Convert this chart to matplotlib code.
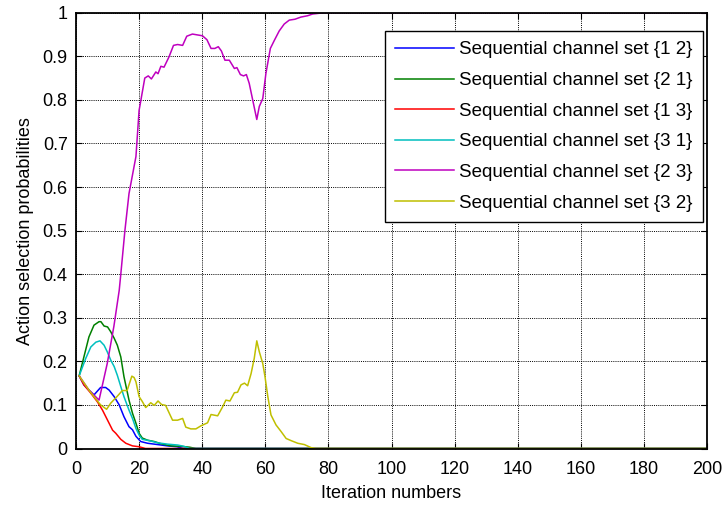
import matplotlib
import matplotlib.pyplot as plt

matplotlib.use("Agg")

# values (iteration, probability)
x_12 = [1, 2.5, 4.1, 5.7, 7.8, 9.4, 10.5, 12.1, 13.7, 15.2, 16.8, 17.9, 19, 20.5, 22.7, 25.9, 29, 32, 34, 200]
y_12 = [0.1667, 0.146, 0.134, 0.123, 0.140, 0.140, 0.134, 0.119, 0.100, 0.073, 0.050, 0.043, 0.028, 0.016, 0.012, 0.009, 0.006, 0.004, 0.0, 0.0]

x_21 = [1, 2.5, 4.1, 5.7, 7.3, 7.9, 8.9, 10, 11, 12.1, 13.1, 14.2, 15.2, 16.8, 17.9, 19, 20, 21, 22.7, 24.8, 26.9, 30, 33.2, 36, 38, 200]
y_21 = [0.1667, 0.210, 0.256, 0.283, 0.291, 0.291, 0.281, 0.279, 0.268, 0.253, 0.237, 0.210, 0.165, 0.111, 0.081, 0.058, 0.035, 0.024, 0.019, 0.016, 0.011, 0.006, 0.005, 0.003, 0.0, 0.0]

x_13 = [1, 2.5, 4.7, 6.8, 8.4, 10, 11.6, 12.6, 14.2, 15.8, 17.9, 20, 22, 200]
y_13 = [0.1667, 0.146, 0.127, 0.107, 0.088, 0.065, 0.042, 0.035, 0.021, 0.012, 0.006, 0.004, 0.0, 0.0]

x_31 = [1, 3.1, 4.7, 6.3, 7.6, 8.9, 9.9, 11, 12.1, 13.1, 14.2, 15.2, 16.8, 17.9, 19, 20, 21, 23.2, 25.9, 29, 32.2, 34.2, 36, 200]
y_31 = [0.1667, 0.207, 0.233, 0.244, 0.247, 0.237, 0.222, 0.203, 0.188, 0.168, 0.142, 0.119, 0.088, 0.069, 0.046, 0.031, 0.021, 0.018, 0.013, 0.010, 0.008, 0.005, 0.0, 0.0]

x_23 = [1, 4, 7.3, 9.9, 12, 13.7, 14.2, 15.5, 16.8, 19, 20, 21.8, 22.9, 23.9, 25.3, 26, 26.9, 27.9, 29.5,
        30.9, 32.2, 33.8, 35.1, 36.9, 38.5, 40.1, 41.5, 42.8, 44, 45.1, 46.1, 47.2, 48.6, 50.2, 51, 52.1,
        53.1, 54, 54.9, 56, 57.3, 58.1, 59.2, 60.2, 61.6, 62.9, 64.4, 66, 67.6, 69.4, 71.3, 73.4, 75, 78.7, 200]
y_23 = [0.1667, 0.135, 0.111, 0.195, 0.28, 0.363, 0.40, 0.50, 0.585, 0.67, 0.776, 0.85, 0.855, 0.848, 0.864, 0.86, 0.877, 0.875, 0.899,
        0.925, 0.927, 0.925, 0.946, 0.951, 0.949, 0.947, 0.938, 0.918, 0.918, 0.922, 0.912, 0.891, 0.891, 0.872, 0.874, 0.858,
        0.855, 0.858, 0.838, 0.800, 0.755, 0.785, 0.803, 0.861, 0.918, 0.937, 0.958, 0.974, 0.983, 0.985, 0.990, 0.993, 0.997, 1.0, 1.0]

x_32 = [1, 4, 5.7, 7.8, 9.7, 11, 13.1, 14.7, 16.2, 17.7, 18.4, 19, 20, 21, 22.1, 23.7, 24.8, 26, 27.1, 28.4, 30.6,
        32.2, 33.8, 34.8, 36.4, 38, 39.6, 41.7, 42.8, 44.9, 46.5, 47.5, 48.8, 50.2, 51.2, 52.3, 53.4, 54.4, 55.5,
        56.5, 57.3, 58.1, 59.2, 59.9, 60.8, 61.8, 63.4, 65, 66.6, 68.2, 70.3, 72.4, 74.5, 76, 200]
y_32 = [0.1667, 0.135, 0.119, 0.100, 0.090, 0.104, 0.120, 0.133, 0.133, 0.166, 0.163, 0.153, 0.119, 0.108, 0.094, 0.105, 0.099, 0.109, 0.101, 0.099, 0.065,
        0.065, 0.069, 0.049, 0.045, 0.045, 0.052, 0.059, 0.078, 0.075, 0.096, 0.111, 0.109, 0.128, 0.129, 0.146, 0.150, 0.144, 0.172,
        0.207, 0.247, 0.222, 0.195, 0.165, 0.119, 0.077, 0.054, 0.039, 0.023, 0.018, 0.012, 0.009, 0.002, 0.0, 0.0]

labels = ["Sequential channel set {1 2}", "Sequential channel set {2 1}",
          "Sequential channel set {1 3}", "Sequential channel set {3 1}",
          "Sequential channel set {2 3}", "Sequential channel set {3 2}"]
colors = ["#0000ff", "#008000", "#ff0000", "#00bfbf", "#bf00bf", "#bfbf00"]

x_ticks = list(range(0, 201, 20))
y_ticks = [0, 0.1, 0.2, 0.3, 0.4, 0.5, 0.6, 0.7, 0.8, 0.9, 1]
y_tick_labels = ["0", "0.1", "0.2", "0.3", "0.4", "0.5", "0.6", "0.7", "0.8", "0.9", "1"]


def main():
    plt.rcParams["font.family"] = ["Liberation Sans", "DejaVu Sans"]
    fig = plt.figure(figsize=(7.25, 5.05), dpi=100)
    ax = fig.add_axes([76 / 725, 56.5 / 505, 631 / 725, 435.8 / 505])

    series = [(x_12, y_12), (x_21, y_21), (x_13, y_13), (x_31, y_31), (x_23, y_23), (x_32, y_32)]
    for (xs, ys), lab, col in zip(series, labels, colors):
        ax.plot(xs, ys, color=col, lw=1.1, label=lab)

    ax.set_xlim(0, 200)
    ax.set_ylim(0, 1)
    ax.set_xticks(x_ticks)
    ax.set_yticks(y_ticks)
    ax.set_yticklabels(y_tick_labels)
    ax.grid(True, color="black", linestyle=(0, (1, 1.2)), lw=0.7)
    ax.tick_params(direction="in", length=4, width=0.8, labelsize=13,
                   top=True, right=True, colors="black")
    ax.tick_params(axis="x", pad=9)
    ax.tick_params(axis="y", pad=6)
    for sp in ax.spines.values():
        sp.set_linewidth(1.3)
        sp.set_zorder(5)

    ax.set_xlabel("Iteration numbers", fontsize=13, labelpad=5)
    ax.set_ylabel("Action selection probabilities", fontsize=13, labelpad=6)

    leg = ax.legend(loc="upper right", bbox_to_anchor=(0.9937, 0.958), borderaxespad=0,
                    fontsize=13.5, handlelength=3.1, handletextpad=0.3,
                    labelspacing=0.72, borderpad=0.55, fancybox=False, framealpha=1)
    leg.get_frame().set_edgecolor("black")
    leg.get_frame().set_linewidth(1.0)

    fig.savefig("out.png", dpi=100)
    plt.close(fig)


if __name__ == "__main__":
    main()
